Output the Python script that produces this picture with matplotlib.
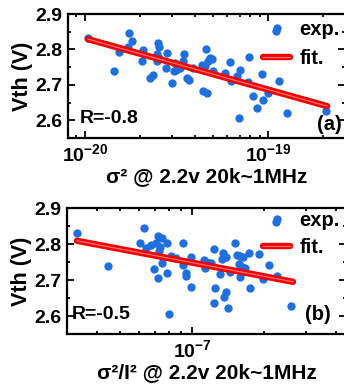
#!/usr/bin/env python3
# Vth vs noise scatter with linear fit, two stacked panels (log x)
import matplotlib
matplotlib.use('Agg')
import matplotlib.pyplot as plt
import matplotlib.patheffects as pe
from matplotlib.ticker import MultipleLocator, NullFormatter, LogLocator

plt.rcParams['font.family'] = ['Liberation Sans', 'DejaVu Sans']
plt.rcParams['font.weight'] = 'bold'
plt.rcParams['axes.labelweight'] = 'bold'
plt.rcParams['mathtext.default'] = 'regular'

# panel (a): sigma^2
sig_a = [1.04e-20, 1.74e-20, 1.80e-20, 1.72e-20, 1.53e-20, 1.45e-20, 2.08e-20, 2.06e-20,
         2.51e-20, 2.53e-20, 2.49e-20, 2.53e-20, 2.46e-20, 2.79e-20, 2.76e-20, 2.36e-20,
         2.26e-20, 3.10e-20, 3.16e-20, 3.07e-20, 3.48e-20, 3.44e-20, 3.30e-20, 3.63e-20,
         3.71e-20, 2.99e-20, 3.90e-20, 4.57e-20, 4.81e-20, 4.95e-20, 4.71e-20, 4.36e-20,
         4.51e-20, 5.01e-20, 4.42e-20, 4.65e-20, 6.18e-20, 5.80e-20, 7.01e-20, 6.73e-20,
         6.31e-20, 7.88e-20, 7.78e-20, 8.28e-20, 8.75e-20, 9.27e-20, 9.40e-20, 1.00e-19,
         1.11e-19, 1.15e-19, 1.27e-19, 2.06e-19, 6.95e-20]
vth_a = [2.832, 2.847, 2.825, 2.806, 2.792, 2.740, 2.799, 2.768,
         2.818, 2.806, 2.787, 2.776, 2.766, 2.790, 2.748, 2.729,
         2.720, 2.762, 2.743, 2.740, 2.787, 2.766, 2.748, 2.720,
         2.715, 2.706, 2.748, 2.802, 2.776, 2.773, 2.768, 2.757,
         2.752, 2.738, 2.682, 2.676, 2.765, 2.734, 2.743, 2.724,
         2.710, 2.778, 2.709, 2.668, 2.636, 2.732, 2.657, 2.678,
         2.853, 2.710, 2.620, 2.626, 2.606]
fit_a_x = [1.04e-20, 2.1e-19]
fit_a_y = [2.829, 2.640]
ticks_a = [1e-20, 1e-19]

# panel (b): sigma^2 / I^2
sig_b = [3.30e-8, 4.43e-8, 6.29e-8, 7.19e-8, 7.50e-8, 6.03e-8, 6.39e-8, 6.70e-8,
         7.03e-8, 7.33e-8, 7.26e-8, 7.82e-8, 9.17e-8, 8.18e-8, 8.52e-8, 7.50e-8,
         6.92e-8, 7.87e-8, 7.19e-8, 9.17e-8, 9.90e-8, 9.38e-8, 9.40e-8, 9.93e-8,
         1.118e-7, 1.147e-7, 1.172e-7, 1.128e-7, 1.238e-7, 1.200e-7, 1.303e-7, 1.341e-7,
         1.367e-7, 1.390e-7, 1.334e-7, 1.515e-7, 1.540e-7, 1.589e-7, 1.631e-7, 1.564e-7,
         1.616e-7, 1.668e-7, 1.444e-7, 1.589e-7, 1.733e-7, 1.895e-7, 2.105e-7, 1.987e-7,
         2.24e-7, 2.256e-7, 1.750e-7, 1.250e-7, 1.390e-7, 1.363e-7, 1.238e-7, 1.407e-7,
         2.58e-7, 7.99e-8]
vth_b = [2.830, 2.739, 2.844, 2.823, 2.816, 2.804, 2.790, 2.797,
         2.804, 2.791, 2.781, 2.804, 2.804, 2.767, 2.760, 2.746,
         2.730, 2.719, 2.705, 2.742, 2.765, 2.719, 2.712, 2.680,
         2.756, 2.751, 2.748, 2.733, 2.786, 2.746, 2.717, 2.774,
         2.765, 2.763, 2.758, 2.802, 2.769, 2.767, 2.763, 2.744,
         2.737, 2.733, 2.723, 2.709, 2.774, 2.771, 2.742, 2.703,
         2.860, 2.711, 2.677, 2.677, 2.667, 2.654, 2.637, 2.621,
         2.629, 2.606]
fit_b_x = [3.3e-8, 2.64e-7]
fit_b_y = [2.809, 2.695]
ticks_b = [1e-7]

blue = '#1f6fdc'
fit_fx = [pe.Stroke(linewidth=4.6, foreground='#f00000'), pe.Normal()]

fig = plt.figure(figsize=(3.44, 3.86), dpi=100)
ax1 = fig.add_axes([0.198, 0.6425, 0.805, 0.3212])
ax2 = fig.add_axes([0.195, 0.1347, 0.811, 0.3264])

panels = [
    (ax1, sig_a, vth_a, fit_a_x, fit_a_y, (8.1e-21, 2.63e-19), ticks_a,
     '\u03c3\u00b2 @ 2.2v 20k~1MHz', 'R=-0.8', (0.043, 0.161), '(a)', (0.897, 0.105)),
    (ax2, sig_b, vth_b, fit_b_x, fit_b_y, (3.0e-8, 4.4e-7), ticks_b,
     '\u03c3\u00b2/I\u00b2 @ 2.2v 20k~1MHz', 'R=-0.5', (0.018, 0.151), '(b)', (0.853, 0.151)),
]

for ax, xs, ys, fx, fy, xlim, xt, xlab, rtxt, rpos, tag, tpos in panels:
    ax.plot(xs, ys, 'o', color=blue, ms=6, mec='none', label='exp.')
    ax.plot(fx, fy, '-', color='#ff7070', lw=0.9, solid_capstyle='round',
            path_effects=fit_fx, label='fit.')
    ax.set_xscale('log')
    ax.set_xticks(xt)
    ax.set_xlim(*xlim)
    ax.set_ylim(2.55, 2.9)
    ax.yaxis.set_major_locator(MultipleLocator(0.1))
    ax.yaxis.set_minor_locator(MultipleLocator(0.05))
    ax.xaxis.set_minor_locator(LogLocator(base=10, subs=range(2, 10)))
    ax.xaxis.set_minor_formatter(NullFormatter())
    ax.tick_params(which='both', direction='in', top=True, right=True,
                   width=1.3, labelsize=14, pad=4)
    ax.tick_params(which='major', length=5)
    ax.tick_params(which='minor', length=2.5)
    for s in ax.spines.values():
        s.set_linewidth(1.6)
    ax.set_ylabel('Vth (V)', fontsize=15.5, labelpad=2)
    ax.set_xlabel(xlab, fontsize=15, labelpad=1)
    ax.text(rpos[0], rpos[1], rtxt, transform=ax.transAxes, fontsize=14,
            ha='left', va='center')
    ax.text(tpos[0], tpos[1], tag, transform=ax.transAxes, fontsize=14.5,
            ha='left', va='center')

ax1.legend(loc='upper left', bbox_to_anchor=(0.704, 0.95), frameon=False,
           fontsize=14.5, borderpad=0, borderaxespad=0, handlelength=1.35,
           handletextpad=0.45, labelspacing=0.5, markerscale=1.0)
ax2.legend(loc='upper left', bbox_to_anchor=(0.703, 0.975), frameon=False,
           fontsize=14.5, borderpad=0, borderaxespad=0, handlelength=1.35,
           handletextpad=0.45, labelspacing=0.4, markerscale=1.0)

fig.savefig('out.png', dpi=100)
